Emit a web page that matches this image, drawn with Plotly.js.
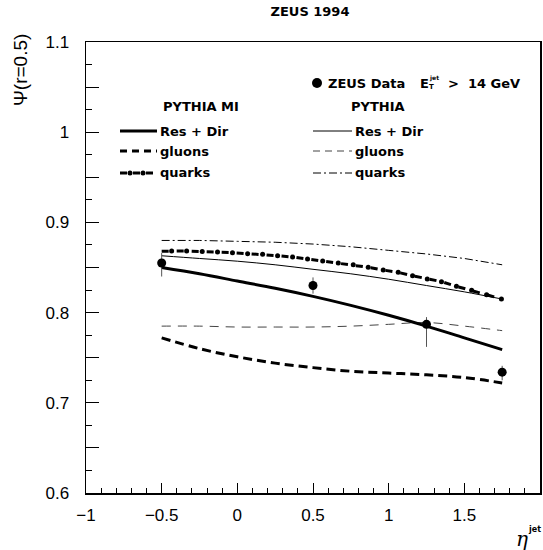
<!DOCTYPE html>
<html>
<head>
<meta charset="utf-8">
<script src="https://cdn.plot.ly/plotly-3.0.1.min.js"></script>
<style>html,body{margin:0;padding:0;background:#fff;}#chart{width:543px;height:550px;}</style>
</head>
<body>
<div id="chart"></div>
<script>
// ---- data ----
const dataEta = [-0.5, 0.5, 1.25, 1.75];
const dataPsi = [0.855, 0.830, 0.787, 0.734];
const dataErrPlus = [0.011, 0.009, 0.008, 0.007];
const dataErrMinus = [0.015, 0.009, 0.025, 0.009];

const curveEta = [-0.5, -0.25, 0, 0.25, 0.5, 0.75, 1.0, 1.25, 1.5, 1.75];
const miResDir = [0.850, 0.843, 0.835, 0.827, 0.818, 0.808, 0.797, 0.785, 0.772, 0.759];
const miGluons = [0.772, 0.760, 0.751, 0.744, 0.739, 0.735, 0.733, 0.731, 0.728, 0.722];
const pyResDir = [0.863, 0.860, 0.857, 0.853, 0.848, 0.843, 0.837, 0.830, 0.823, 0.815];
const pyGluons = [0.785, 0.785, 0.784, 0.784, 0.784, 0.785, 0.787, 0.789, 0.785, 0.780];
const pyQuarks = [0.880, 0.880, 0.879, 0.878, 0.876, 0.873, 0.869, 0.865, 0.860, 0.853];

const miQuarksStartEta = -0.5;
const miQuarksStartPsi = 0.868;
const miQuarksDotEta = [-0.434, -0.335, -0.232, -0.131, -0.032, 0.068, 0.167, 0.266, 0.365, 0.464, 0.564, 0.667,
                        0.766, 0.865, 0.964, 1.063, 1.158, 1.255, 1.349, 1.448, 1.548, 1.647, 1.745];
const miQuarksDotPsi = [0.8683, 0.8683, 0.8676, 0.8672, 0.8664, 0.8653, 0.8646, 0.8631, 0.8616, 0.8594, 0.8572, 0.8550,
                        0.8531, 0.8502, 0.8472, 0.8446, 0.8409, 0.8372, 0.8343, 0.8291, 0.8247, 0.8198, 0.8151];

const xTickVals = [-1, -0.5, 0, 0.5, 1, 1.5, 2];
const xTickText = ['\u22121', '\u22120.5', '0', '0.5', '1', '1.5', '2'];
const yTickVals = [0.6, 0.65, 0.7, 0.75, 0.8, 0.85, 0.9, 0.95, 1.0, 1.05, 1.1];
const yTickText = ['0.6', '', '0.7', '', '0.8', '', '0.9', '', '1', '', '1.1'];

const titleText = 'ZEUS 1994';
const yTitleText = '\u03A8(r=0.5)';
const legendHeaders = ['PYTHIA MI', 'PYTHIA'];
const legendLabels = ['Res + Dir', 'gluons', 'quarks'];

// ---- layout helpers (pixel -> paper) ----
const L = 86, R = 540, T = 42, B = 493;
const px = v => (v - L) / (R - L);
const py = v => (B - v) / (B - T);

const traces = [
  {x: curveEta, y: pyQuarks, mode: 'lines', line: {color: '#000', width: 1, dash: '8px,3px,2px,3px'}, hoverinfo: 'skip'},
  {x: curveEta, y: pyResDir, mode: 'lines', line: {color: '#000', width: 1, shape: 'spline'}, hoverinfo: 'skip'},
  {x: curveEta, y: pyGluons, mode: 'lines', line: {color: '#444', width: 1, dash: '9px,7px', shape: 'spline'}, hoverinfo: 'skip'},
  {x: curveEta, y: miResDir, mode: 'lines', line: {color: '#000', width: 3, shape: 'spline'}, hoverinfo: 'skip'},
  {x: curveEta, y: miGluons, mode: 'lines', line: {color: '#000', width: 3, dash: '9px,5px', shape: 'spline'}, hoverinfo: 'skip'},
  {x: [miQuarksStartEta].concat(miQuarksDotEta), y: [miQuarksStartPsi].concat(miQuarksDotPsi), mode: 'lines',
   line: {color: '#000', width: 3, dash: '7px,8px'}, hoverinfo: 'skip'},
  {x: miQuarksDotEta, y: miQuarksDotPsi, mode: 'markers', marker: {color: '#000', size: 5}, hoverinfo: 'skip'},
  {x: dataEta, y: dataPsi, mode: 'markers', marker: {color: '#000', size: 9},
   error_y: {type: 'data', symmetric: false, array: dataErrPlus, arrayminus: dataErrMinus, color: '#555', thickness: 1, width: 0}}
];

const rowsY = [131, 151, 173];
const fontB = {family: 'DejaVu Sans', size: 13, color: '#000', weight: 'bold'};
const annotations = [
  {text: yTitleText, xref: 'paper', yref: 'paper', x: px(20), y: py(70), textangle: -90, showarrow: false,
   xanchor: 'center', yanchor: 'middle', font: {family: 'Liberation Sans', size: 19, color: '#000'}},
  {text: '<i>\u03B7</i>', xref: 'paper', yref: 'paper', x: px(522), y: py(539), showarrow: false,
   xanchor: 'center', yanchor: 'middle', font: {family: 'DejaVu Serif', size: 20, color: '#000'}},
  {text: 'jet', xref: 'paper', yref: 'paper', x: px(534), y: py(529), showarrow: false,
   xanchor: 'center', yanchor: 'middle', font: {family: 'DejaVu Sans', size: 8, color: '#000', weight: 'bold'}},
  {text: 'ZEUS Data', xref: 'paper', yref: 'paper', x: px(326), y: py(83), showarrow: false, xanchor: 'left', yanchor: 'middle', font: fontB},
  {text: 'E', xref: 'paper', yref: 'paper', x: px(418), y: py(83), showarrow: false, xanchor: 'left', yanchor: 'middle', font: fontB},
  {text: 'jet', xref: 'paper', yref: 'paper', x: px(427), y: py(78), showarrow: false, xanchor: 'left', yanchor: 'middle',
   font: {family: 'DejaVu Sans', size: 6, color: '#000', weight: 'bold'}},
  {text: 'T', xref: 'paper', yref: 'paper', x: px(427), y: py(87), showarrow: false, xanchor: 'left', yanchor: 'middle',
   font: {family: 'DejaVu Sans', size: 7, color: '#000', weight: 'bold'}},
  {text: '>  14 GeV', xref: 'paper', yref: 'paper', x: px(522), y: py(83), showarrow: false, xanchor: 'right', yanchor: 'middle', font: fontB},
  {text: legendHeaders[0], xref: 'paper', yref: 'paper', x: px(161), y: py(106), showarrow: false, xanchor: 'left', yanchor: 'middle', font: fontB},
  {text: legendHeaders[1], xref: 'paper', yref: 'paper', x: px(349), y: py(106), showarrow: false, xanchor: 'left', yanchor: 'middle', font: fontB}
];
legendLabels.forEach((lab, i) => {
  annotations.push({text: lab, xref: 'paper', yref: 'paper', x: px(158), y: py(rowsY[i]), showarrow: false, xanchor: 'left', yanchor: 'middle', font: fontB});
  annotations.push({text: lab, xref: 'paper', yref: 'paper', x: px(353), y: py(rowsY[i]), showarrow: false, xanchor: 'left', yanchor: 'middle', font: fontB});
});

const seg = (x0, x1, yy, w, dash, color) => ({type: 'line', xref: 'paper', yref: 'paper', x0: px(x0), x1: px(x1), y0: py(yy), y1: py(yy),
  line: {color: color || '#000', width: w, dash: dash || 'solid'}});
const dot = (cx, cy, r) => ({type: 'circle', xref: 'paper', yref: 'paper', x0: px(cx - r), x1: px(cx + r), y0: py(cy + r), y1: py(cy - r),
  fillcolor: '#000', line: {width: 0}});
const shapes = [
  dot(317, 83, 5),
  seg(120, 157, rowsY[0], 3),
  seg(120, 157, rowsY[1], 3, '7px,5px'),
  seg(120, 157, rowsY[2], 3, '7px,6px'),
  dot(130, rowsY[2], 2.5), dot(143, rowsY[2], 2.5),
  seg(313, 352, rowsY[0], 1),
  seg(313, 352, rowsY[1], 1, '7px,5px', '#444'),
  seg(313, 352, rowsY[2], 1, '8px,3px,2px,3px')
];

const layout = {
  width: 543, height: 550,
  margin: {l: L, r: 543 - R, t: T, b: 550 - B},
  paper_bgcolor: '#fff', plot_bgcolor: '#fff',
  showlegend: false,
  title: {text: titleText, x: 310 / 543, xref: 'container', xanchor: 'center', y: 1 - 11 / 550, yref: 'container', yanchor: 'middle',
          font: {family: 'DejaVu Sans', size: 13, color: '#000', weight: 'bold'}},
  xaxis: {range: [-1, 2], tickmode: 'array', tickvals: xTickVals, ticktext: xTickText,
          ticks: 'inside', ticklen: 10, tickwidth: 1, tickcolor: '#000',
          minor: {tick0: -1, dtick: 0.1, ticks: 'inside', ticklen: 5, tickwidth: 1, tickcolor: '#000'},
          showline: true, linecolor: '#000', linewidth: 1.5, mirror: true, showgrid: false, zeroline: false,
          ticklabelstandoff: 6,
          tickfont: {family: 'Liberation Sans', size: 17, color: '#000'}},
  yaxis: {range: [0.6, 1.1], tickmode: 'array', tickvals: yTickVals, ticktext: yTickText,
          ticks: 'inside', ticklen: 13, tickwidth: 1, tickcolor: '#000',
          minor: {tick0: 0.6, dtick: 0.025, ticks: 'inside', ticklen: 6, tickwidth: 1, tickcolor: '#000'},
          showline: true, linecolor: '#000', linewidth: 1.5, mirror: true, showgrid: false, zeroline: false,
          ticklabelstandoff: 12,
          tickfont: {family: 'Liberation Sans', size: 17, color: '#000'}},
  annotations: annotations,
  shapes: shapes
};

Plotly.newPlot('chart', traces, layout, {displayModeBar: false, staticPlot: true});
</script>
</body>
</html>
